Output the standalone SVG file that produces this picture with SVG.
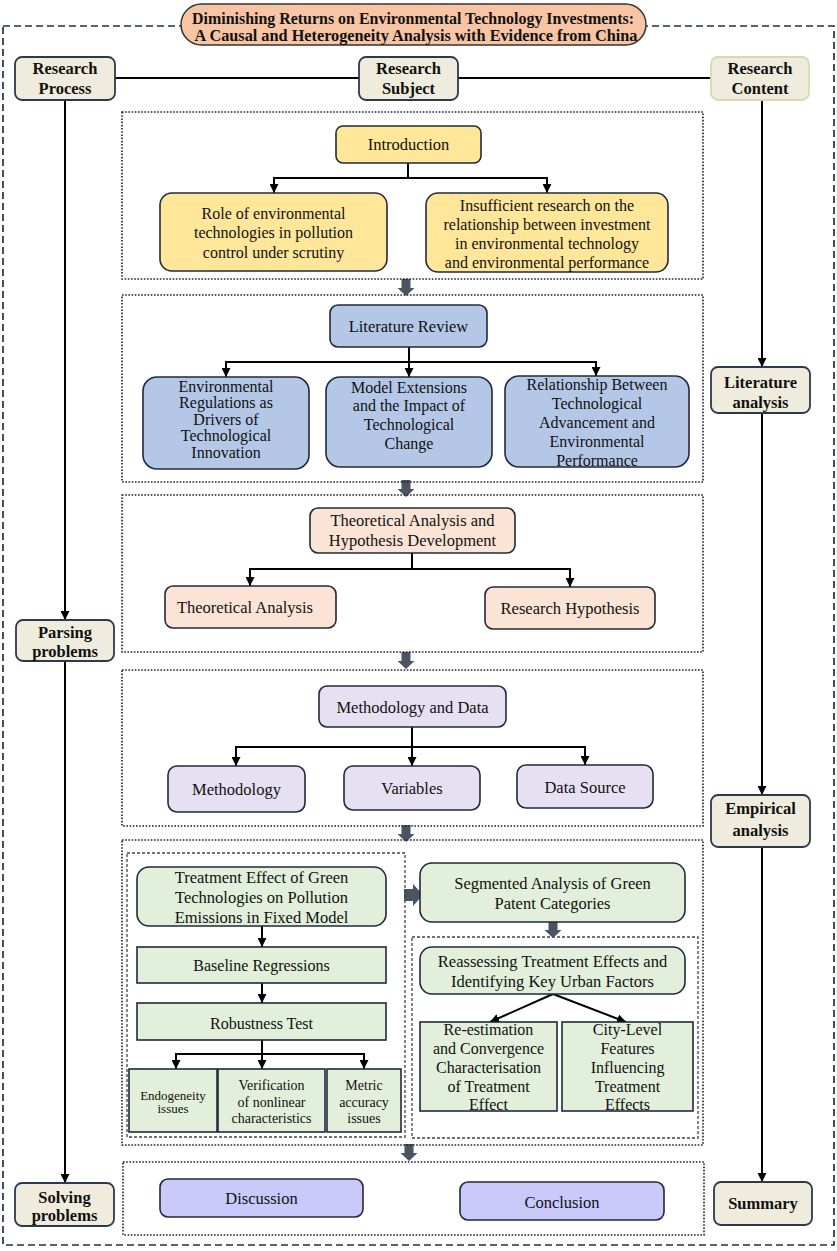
<svg xmlns="http://www.w3.org/2000/svg" width="837" height="1251" viewBox="0 0 837 1251">
<defs>
<style>
.t{font-family:"Liberation Serif",serif;font-size:16.5px;fill:#111;text-anchor:middle}
.b{font-weight:bold}
.s13{font-size:13px}
.s14{font-size:14px}
.s16{font-size:16px}
.side{fill:#efecdd;stroke:#2d3a4b;stroke-width:1.8}
.panel{fill:none;stroke:#222;stroke-width:1.6;stroke-dasharray:1.6 1.6}
.inner{fill:none;stroke:#444;stroke-width:1.3;stroke-dasharray:3 2}
.bx{stroke:#1f2a3c;stroke-width:1.6}
.yel{fill:#ffe699}
.blu{fill:#b4c7e7}
.pch{fill:#fbe4d6}
.lav{fill:#e6e0f2}
.grn{fill:#e2efda}
.per{fill:#c9c9fa}
.ln{stroke:#000;stroke-width:2;fill:none}
.ar{stroke:#000;stroke-width:2;fill:none;marker-end:url(#ah)}
.blk{fill:#4a5462}
</style>
<marker id="ah" viewBox="0 0 10 10" refX="10" refY="5" markerWidth="9" markerHeight="9" markerUnits="userSpaceOnUse" orient="auto">
<path d="M0,0 L10,5 L0,10 z" fill="#000"/>
</marker>
<path id="dn" d="M-4.5,0 H4.5 V9 H8.5 L0,17 L-8.5,9 H-4.5 Z"/>
</defs>
<rect width="837" height="1251" fill="#fff"/>

<rect x="3" y="26" width="831" height="1219" fill="none" stroke="#26303f" stroke-width="1.7" stroke-dasharray="7 4"/>

<g id="title">
<rect x="181" y="4" width="465" height="41" rx="20.5" fill="#f8c5a4" stroke="#333" stroke-width="1.5"/>
<text class="t b" x="413" y="23.5" font-size="15" textLength="442" lengthAdjust="spacingAndGlyphs">Diminishing Returns on Environmental Technology Investments:</text>
<text class="t b" x="416" y="40.5" font-size="15" textLength="443" lengthAdjust="spacingAndGlyphs">A Causal and Heterogeneity Analysis with Evidence from China</text>
</g>

<g id="connectors">
<line class="ln" x1="115" y1="78" x2="359" y2="78"/>
<line class="ln" x1="458" y1="78" x2="711" y2="78"/>
<line class="ar" x1="65" y1="100" x2="65" y2="620"/>
<line class="ar" x1="65" y1="661" x2="65" y2="1183"/>
<line class="ar" x1="762" y1="100" x2="762" y2="367"/>
<line class="ar" x1="762" y1="413" x2="762" y2="795"/>
<line class="ar" x1="762" y1="847" x2="762" y2="1182"/>
<polyline class="ln" points="408,163 408,178"/>
<polyline class="ln" points="274,178 547,178"/>
<line class="ar" x1="274" y1="177" x2="274" y2="193"/>
<line class="ar" x1="547" y1="177" x2="547" y2="193"/>
<polyline class="ln" points="409,347 409,362"/>
<polyline class="ln" points="226,362 596,362"/>
<line class="ar" x1="226" y1="361" x2="226" y2="377"/>
<line class="ar" x1="409" y1="361" x2="409" y2="377"/>
<line class="ar" x1="596" y1="361" x2="596" y2="376"/>
<polyline class="ln" points="412,553 412,569"/>
<polyline class="ln" points="250,569 570,569"/>
<line class="ar" x1="250" y1="568" x2="250" y2="586"/>
<line class="ar" x1="570" y1="568" x2="570" y2="587"/>
<polyline class="ln" points="412,727 412,747"/>
<polyline class="ln" points="236,747 585,747"/>
<line class="ar" x1="236" y1="746" x2="236" y2="766"/>
<line class="ar" x1="412" y1="746" x2="412" y2="766"/>
<line class="ar" x1="585" y1="746" x2="585" y2="765"/>
<line class="ar" x1="262" y1="926" x2="262" y2="947"/>
<line class="ar" x1="262" y1="983" x2="262" y2="1003"/>
<polyline class="ln" points="262,1040 262,1054"/>
<polyline class="ln" points="176,1054 364,1054"/>
<line class="ar" x1="176" y1="1053" x2="176" y2="1069"/>
<line class="ar" x1="262" y1="1053" x2="262" y2="1069"/>
<line class="ar" x1="364" y1="1053" x2="364" y2="1069"/>
<line class="ar" x1="553" y1="994" x2="490" y2="1022"/>
<line class="ar" x1="553" y1="994" x2="626" y2="1022"/>
<use href="#dn" class="blk" transform="translate(406,279)"/>
<use href="#dn" class="blk" transform="translate(406,480)"/>
<use href="#dn" class="blk" transform="translate(406,652)"/>
<use href="#dn" class="blk" transform="translate(406,825)"/>
<use href="#dn" class="blk" transform="translate(409,1144)"/>
<use href="#dn" class="blk" transform="translate(553,921)"/>
<path class="blk" d="M404,889 H413 V884 L423,895 L413,906 V901 H404 Z"/>
</g>

<g id="research-process"><rect class="side" x="15" y="57" width="100" height="43" rx="7"/>
<text class="t b" x="65" y="73.5">Research</text><text class="t b" x="65" y="93.5">Process</text></g>
<g id="research-subject"><rect class="side" x="359" y="57" width="99" height="43" rx="7"/>
<text class="t b" x="408.5" y="73.5">Research</text><text class="t b" x="408.5" y="93.5">Subject</text></g>
<g id="research-content"><rect class="side" x="711" y="57" width="98" height="43" rx="7" style="stroke:#dcd8ae"/>
<text class="t b" x="760" y="73.5">Research</text><text class="t b" x="760" y="93.5">Content</text></g>
<g id="parsing-problems"><rect class="side" x="16" y="620" width="98" height="41" rx="7"/>
<text class="t b" x="65" y="637.5">Parsing</text><text class="t b" x="65" y="657">problems</text></g>
<g id="solving-problems"><rect class="side" x="15" y="1183" width="99" height="43" rx="7"/>
<text class="t b" x="64.5" y="1203">Solving</text><text class="t b" x="64.5" y="1221">problems</text></g>
<g id="literature-analysis"><rect class="side" x="711" y="367" width="99" height="46" rx="7"/>
<text class="t b" x="760.5" y="387.5">Literature</text><text class="t b" x="760.5" y="408">analysis</text></g>
<g id="empirical-analysis"><rect class="side" x="711" y="795" width="99" height="52" rx="7"/>
<text class="t b" x="760.5" y="813.5">Empirical</text><text class="t b" x="760.5" y="835.5">analysis</text></g>
<g id="summary"><rect class="side" x="714" y="1182" width="98" height="43" rx="7"/>
<text class="t b" x="763" y="1209">Summary</text></g>

<g id="panels">
<rect class="panel" x="122" y="112" width="581" height="167"/>
<rect class="panel" x="122" y="295" width="581" height="187"/>
<rect class="panel" x="122" y="495" width="581" height="157"/>
<rect class="panel" x="122" y="670" width="581" height="156"/>
<rect class="panel" x="122" y="840" width="581" height="305"/>
<rect class="panel" x="123" y="1162" width="581" height="73"/>
<rect class="inner" x="127" y="853" width="278" height="284"/>
<rect class="inner" x="412" y="937" width="286" height="201"/>
</g>

<g id="introduction"><rect class="bx yel" x="336" y="126" width="145" height="37" rx="7"/>
<text class="t" x="408.5" y="150">Introduction</text></g>
<g id="role"><rect class="bx yel" x="160" y="193" width="227" height="78" rx="12"/>
<text class="t s16" x="273.5" y="218.5">Role of environmental</text>
<text class="t s16" x="273.5" y="238">technologies in pollution</text>
<text class="t s16" x="273.5" y="257.5">control under scrutiny</text></g>
<g id="insufficient"><rect class="bx yel" x="426" y="193" width="242" height="79" rx="12"/>
<text class="t s16" x="547" y="211">Insufficient research on the</text>
<text class="t s16" x="547" y="230">relationship between investment</text>
<text class="t s16" x="547" y="249">in environmental technology</text>
<text class="t s16" x="547" y="268">and environmental performance</text></g>

<g id="literature-review"><rect class="bx blu" x="330" y="305" width="157" height="42" rx="8"/>
<text class="t" x="408.5" y="332">Literature Review</text></g>
<g id="lit1"><rect class="bx blu" x="143" y="377" width="166" height="92" rx="14"/>
<text class="t s16" x="226" y="392">Environmental</text>
<text class="t s16" x="226" y="408">Regulations as</text>
<text class="t s16" x="226" y="424.5">Drivers of</text>
<text class="t s16" x="226" y="440.5">Technological</text>
<text class="t s16" x="226" y="458">Innovation</text></g>
<g id="lit2"><rect class="bx blu" x="326" y="377" width="166" height="90" rx="14"/>
<text class="t s16" x="409" y="392.5">Model Extensions</text>
<text class="t s16" x="409" y="411">and the Impact of</text>
<text class="t s16" x="409" y="430">Technological</text>
<text class="t s16" x="409" y="449">Change</text></g>
<g id="lit3"><rect class="bx blu" x="505" y="376" width="184" height="91" rx="14"/>
<text class="t s16" x="597" y="389.5">Relationship Between</text>
<text class="t s16" x="597" y="408.5">Technological</text>
<text class="t s16" x="597" y="427.5">Advancement and</text>
<text class="t s16" x="597" y="446.5">Environmental</text>
<text class="t s16" x="597" y="465.5">Performance</text></g>

<g id="theory"><rect class="bx pch" x="310" y="508" width="205" height="45" rx="8"/>
<text class="t" x="412.5" y="525.5">Theoretical Analysis and</text>
<text class="t" x="412.5" y="545.5">Hypothesis Development</text></g>
<g id="theoretical-analysis"><rect class="bx pch" x="165" y="586" width="171" height="42" rx="8"/>
<text class="t" x="245" y="612.5">Theoretical Analysis</text></g>
<g id="research-hypothesis"><rect class="bx pch" x="485" y="587" width="170" height="42" rx="8"/>
<text class="t" x="570" y="613.5">Research Hypothesis</text></g>

<g id="method-data"><rect class="bx lav" x="319" y="686" width="187" height="41" rx="8"/>
<text class="t" x="412.5" y="712.5">Methodology and Data</text></g>
<g id="methodology"><rect class="bx lav" x="168" y="766" width="137" height="46" rx="9"/>
<text class="t" x="236.5" y="794.5">Methodology</text></g>
<g id="variables"><rect class="bx lav" x="344" y="766" width="136" height="44" rx="9"/>
<text class="t" x="412" y="793.5">Variables</text></g>
<g id="data-source"><rect class="bx lav" x="517" y="765" width="136" height="43" rx="9"/>
<text class="t" x="585" y="792.5">Data Source</text></g>

<g id="treatment"><rect class="bx grn" x="137" y="867" width="249" height="59" rx="12"/>
<text class="t" x="261.5" y="882.5">Treatment Effect of Green</text>
<text class="t" x="261.5" y="903">Technologies on Pollution</text>
<text class="t" x="261.5" y="922.5">Emissions in Fixed Model</text></g>
<g id="baseline"><rect class="bx grn" x="137" y="947" width="249" height="36"/>
<text class="t s16" x="261.5" y="970.5">Baseline Regressions</text></g>
<g id="robustness"><rect class="bx grn" x="137" y="1003" width="249" height="37"/>
<text class="t s16" x="261.5" y="1028.5">Robustness Test</text></g>
<g id="endogeneity"><rect class="bx grn" x="129" y="1069" width="88" height="63"/>
<text class="t s13" x="173" y="1099.5">Endogeneity</text>
<text class="t s13" x="173" y="1112.5">issues</text></g>
<g id="verification"><rect class="bx grn" x="218" y="1069" width="107" height="63"/>
<text class="t s14" x="271.5" y="1090">Verification</text>
<text class="t s14" x="271.5" y="1106.5">of nonlinear</text>
<text class="t s14" x="271.5" y="1123">characteristics</text></g>
<g id="metric"><rect class="bx grn" x="327" y="1069" width="74" height="63"/>
<text class="t s14" x="364" y="1090">Metric</text>
<text class="t s14" x="364" y="1106.5">accuracy</text>
<text class="t s14" x="364" y="1123">issues</text></g>

<g id="segmented"><rect class="bx grn" x="420" y="863" width="265" height="59" rx="12"/>
<text class="t" x="552.5" y="888.5">Segmented Analysis of Green</text>
<text class="t" x="552.5" y="908.5">Patent Categories</text></g>
<g id="reassessing"><rect class="bx grn" x="420" y="947" width="265" height="47" rx="12"/>
<text class="t" x="552.5" y="966.5">Reassessing Treatment Effects and</text>
<text class="t" x="552.5" y="986.5">Identifying Key Urban Factors</text></g>
<g id="re-estimation"><rect class="bx grn" x="420" y="1022" width="137" height="89"/>
<text class="t s16" x="488.5" y="1034.5">Re-estimation</text>
<text class="t s16" x="488.5" y="1053.5">and Convergence</text>
<text class="t s16" x="488.5" y="1072.5">Characterisation</text>
<text class="t s16" x="488.5" y="1091.5">of Treatment</text>
<text class="t s16" x="488.5" y="1110">Effect</text></g>
<g id="city-level"><rect class="bx grn" x="562" y="1022" width="131" height="89"/>
<text class="t s16" x="627.5" y="1034.5">City-Level</text>
<text class="t s16" x="627.5" y="1053.5">Features</text>
<text class="t s16" x="627.5" y="1072.5">Influencing</text>
<text class="t s16" x="627.5" y="1091.5">Treatment</text>
<text class="t s16" x="627.5" y="1110">Effects</text></g>

<g id="discussion"><rect class="bx per" x="160" y="1179" width="203" height="38" rx="8"/>
<text class="t" x="261.5" y="1203.5">Discussion</text></g>
<g id="conclusion"><rect class="bx per" x="460" y="1182" width="204" height="38" rx="8"/>
<text class="t" x="562" y="1207.5">Conclusion</text></g>
</svg>
